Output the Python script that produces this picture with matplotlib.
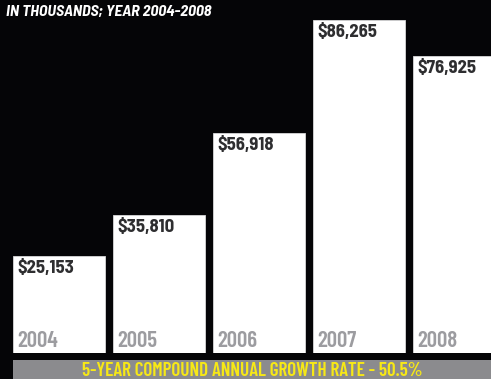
import matplotlib.pyplot as plt

years = ['2004', '2005', '2006', '2007', '2008']
revenue = [25153, 35810, 56918, 86265, 76925]
value_labels = ['$25,153', '$35,810', '$56,918', '$86,265', '$76,925']
subtitle = 'IN THOUSANDS; YEAR 2004-2008'
footer = '5-YEAR COMPOUND ANNUAL GROWTH RATE - 50.5%'

W, H = 491, 379
FONT = ['Barlow Semi Condensed', 'Barlow Condensed', 'DejaVu Sans']
NARROW = ['Barlow Condensed', 'DejaVu Sans']

fig = plt.figure(figsize=(W / 100, H / 100), dpi=100)
fig.patch.set_facecolor('#050507')

# bars: axes spans from the left edge to the right edge, bottom at y=353px
ax = fig.add_axes([0, (H - 353) / H, 1, 353 / H])
ax.set_facecolor('#050507')
x = list(range(len(years)))
ax.bar(x, revenue, width=0.92, color='white', edgecolor='#d8d8d8', linewidth=0.6)
ax.set_xlim(-0.59, 4.32)
ax.set_ylim(0, 91450)
ax.axis('off')

for i in x:
    ax.annotate(value_labels[i], (i - 0.46, revenue[i]), xytext=(4, -4),
                textcoords='offset pixels', ha='left', va='top',
                fontsize=13.5, fontweight='bold', color='#2e2e30', family=FONT)
    ax.annotate(years[i], (i - 0.46, 0), xytext=(4, 2),
                textcoords='offset pixels', ha='left', va='bottom',
                fontsize=16.5, fontweight='semibold', color='#9c9ca0', family=NARROW)

# growth rate band
band = fig.add_axes([13 / W, 0, (W - 13) / W, 19 / H])
band.set_facecolor('#8b8b8e')
band.set_xticks([])
band.set_yticks([])
for s in band.spines.values():
    s.set_visible(False)
band.text(0.5, 0.4, footer, ha='center', va='center', transform=band.transAxes,
          fontsize=13.8, fontweight='semibold', color='#f7e816', family=NARROW)

fig.text(6 / W, 1 - 12 / H, subtitle, ha='left', va='center', fontsize=11.5,
         fontweight='bold', style='italic', color='white', family=FONT)

fig.savefig('out.png', dpi=100, facecolor=fig.get_facecolor())
